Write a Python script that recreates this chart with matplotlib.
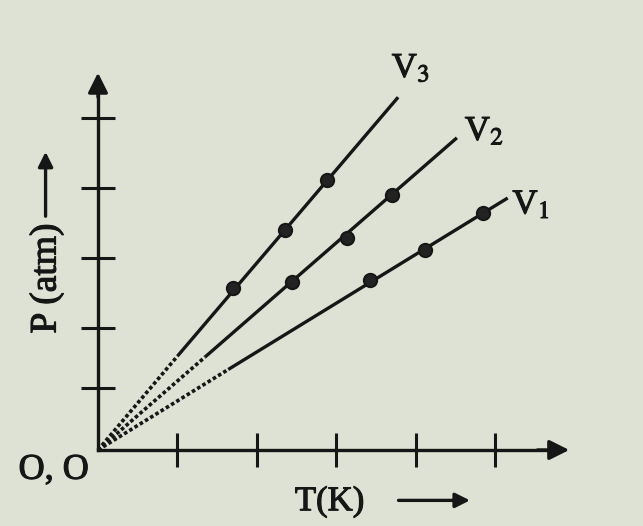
import matplotlib
matplotlib.use('agg')
import matplotlib.pyplot as plt
import matplotlib.patheffects as pe

plt.rcParams['font.family'] = ['Liberation Serif', 'DejaVu Serif']
plt.rcParams['mathtext.fontset'] = 'stix'

# isochores: dotted extrapolation from origin, then solid part, then measured points
names = ['V$_3$', 'V$_2$', 'V$_1$']
dot_T = [1.00, 1.35, 1.64]
dot_P = [1.34, 1.33, 1.15]
end_T = [3.78, 4.52, 5.16]
end_P = [5.04, 4.46, 3.60]
pts_T = [[1.70, 2.36, 2.88], [2.44, 3.14, 3.70], [3.43, 4.12, 4.85]]
pts_P = [[2.31, 3.14, 3.86], [2.40, 3.03, 3.64], [2.43, 2.86, 3.39]]
lab_T = [3.70, 4.62, 5.22]
lab_P = [5.45, 4.55, 3.50]

T_ticks = [1, 2, 3, 4, 5]
P_ticks = [0.89, 1.74, 2.74, 3.74, 4.74]

ink = '#161616'
bg = '#dde2d4'
fx = [pe.withStroke(linewidth=0.8, foreground=ink)]

fig = plt.figure(figsize=(6.43, 5.26), dpi=100)
fig.patch.set_facecolor(bg)
ax = fig.add_axes([0, 0, 1, 1])
ax.set_facecolor(bg)
ax.set_xlim(-1.234, 6.864)
ax.set_ylim(-1.086, 6.429)

for s in ['top', 'right']:
    ax.spines[s].set_visible(False)
ax.spines['left'].set_position(('data', 0))
ax.spines['bottom'].set_position(('data', 0))
ax.spines['left'].set_bounds(0, 5.2)
ax.spines['bottom'].set_bounds(0, 5.7)
for s in ['left', 'bottom']:
    ax.spines[s].set_linewidth(2.4)
    ax.spines[s].set_color(ink)
ax.set_xticks(T_ticks)
ax.set_yticks(P_ticks)
ax.tick_params(direction='inout', length=24, width=2.2, color=ink,
               labelbottom=False, labelleft=False)

# axis arrow heads
ax.annotate('', xy=(5.97, 0), xytext=(5.5, 0),
            arrowprops=dict(arrowstyle='-|>', color=ink, lw=2.4, mutation_scale=30))
ax.annotate('', xy=(0, 5.43), xytext=(0, 5.0),
            arrowprops=dict(arrowstyle='-|>', color=ink, lw=2.4, mutation_scale=30))

for i in range(3):
    ax.plot([0, dot_T[i]], [0, dot_P[i]], color=ink, lw=2.6, ls=(0, (1, 0.7)))
    ax.plot([dot_T[i], end_T[i]], [dot_P[i], end_P[i]], color=ink, lw=2.4,
            solid_capstyle='butt')
    ax.plot(pts_T[i], pts_P[i], 'o', color='#222222', mec=ink, mew=1.5, ms=9.5)
    ax.text(lab_T[i], lab_P[i], names[i], fontsize=25, color=ink,
            ha='left', va='center', path_effects=fx)

ax.text(-1.0, -0.29, 'O, O', fontsize=26, color=ink, ha='left', va='center',
        path_effects=fx)

# axis titles with arrows
ax.text(2.48, -0.74, 'T(K)', fontsize=25, color=ink, ha='left', va='center',
        path_effects=fx)
ax.annotate('', xy=(4.72, -0.72), xytext=(3.75, -0.72),
            arrowprops=dict(arrowstyle='-|>', color=ink, lw=2.4, mutation_scale=22))
ax.text(-0.65, 2.45, 'P (atm)', fontsize=27, color=ink, rotation=90,
        ha='center', va='center', path_effects=fx)
ax.annotate('', xy=(-0.66, 4.3), xytext=(-0.66, 3.3),
            arrowprops=dict(arrowstyle='-|>', color=ink, lw=2.4, mutation_scale=22))

fig.savefig('out.png', dpi=100, facecolor=bg)
